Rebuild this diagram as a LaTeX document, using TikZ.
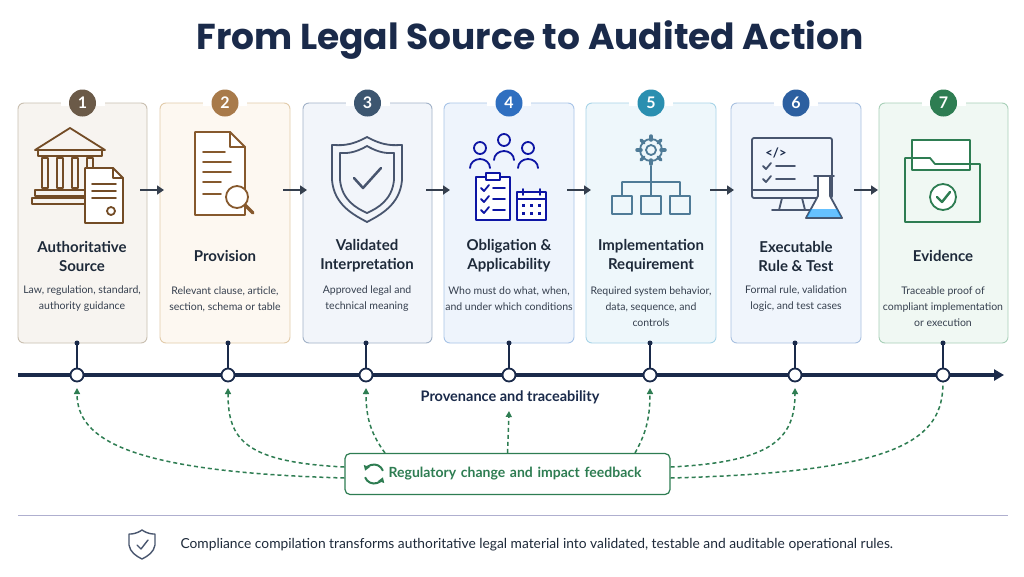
\documentclass[tikz,border=0pt]{standalone}
\usepackage{fontspec}
\setmainfont{Lato}
\newfontfamily\titlefont{Poppins}
\usetikzlibrary{arrows.meta,calc}
\definecolor{navy}{HTML}{1A2A4A}
\definecolor{fgreen}{HTML}{2E7D52}
\definecolor{ink}{HTML}{1E2A3A}
\begin{document}
\begin{tikzpicture}[x=1pt,y=-1pt,
 card/.style={rounded corners=6pt,line width=0.9pt},
 num/.style={circle,minimum size=27pt,inner sep=0pt,text=white,font=\bfseries\fontsize{16}{16}\selectfont},
 ttl/.style={align=center,font=\bfseries\fontsize{15}{19}\selectfont,text=ink},
 dsc/.style={align=center,font=\fontsize{10.5}{16}\selectfont,text=ink!90},
 steparr/.style={-{Triangle[length=7pt,width=9pt]},line width=2.6pt,draw=ink!90},
 tdot/.style={circle,draw=navy,fill=white,line width=1.8pt,minimum size=13pt,inner sep=0pt},
 fb/.style={dashed,draw=fgreen,line width=1.5pt,dash pattern=on 4pt off 3pt},
 fba/.style={fb,-{Triangle[length=6pt,width=6pt]}},
 ic/.style={line width=1.8pt,line join=round,line cap=round}]
\useasboundingbox (0,0) rectangle (1024,576);
\fill[white] (0,0) rectangle (1024,576);
\node[font=\titlefont\bfseries\fontsize{36}{36}\selectfont,text=navy] (title) at (530,40) {From Legal Source to Audited Action};
% cards
\def\cards{1/18/147/F7F4F0/C9BFB0/6B5A48,2/160/290/FDF8F1/E2CBAA/A87A4A,3/303/432/F2F5FA/A2B2C8/3D5670,4/444/574/EEF4FC/A8C4E8/2F6FC0,5/586/716/EEF7FB/A8D4E8/2A8FB0,6/731/861/F0F5FC/A8C0E0/2C5FA0,7/879/1008/F0F8F3/A8D0B8/2E7D52}
\foreach \n/\a/\b/\f/\d/\c in \cards {
 \definecolor{cf}{HTML}{\f}\definecolor{cd}{HTML}{\d}\definecolor{cc}{HTML}{\c}
 \draw[card,fill=cf,draw=cd] (\a,103) rectangle (\b,343);
 \fill[white] ({(\a+\b)/2-22},100) rectangle ({(\a+\b)/2+22},106);
 \node[num,fill=cc] (n\n) at ({(\a+\b)/2},103) {\n};
 \coordinate (c\n) at ({(\a+\b)/2},190);
}
% titles & descriptions
\node[ttl] (t1) at (82,256) {Authoritative\\Source};
\node[ttl] (t2) at (225,256) {Provision};
\node[ttl] (t3) at (367,256) {Validated\\Interpretation};
\node[ttl] (t4) at (509,256) {Obligation \&\\Applicability};
\node[ttl] (t5) at (651,256) {Implementation\\Requirement};
\node[ttl] (t6) at (796,256) {Executable\\Rule \& Test};
\node[ttl] (t7) at (943,256) {Evidence};
\node[dsc] (d1) at (82,299) {Law, regulation, standard,\\authority guidance};
\node[dsc] (d2) at (225,299) {Relevant clause, article,\\section, schema or table};
\node[dsc] (d3) at (367,299) {Approved legal and\\technical meaning};
\node[dsc] (d4) at (509,299) {Who must do what, when,\\and under which conditions};
\node[dsc] (d5) at (651,307) {Required system behavior,\\data, sequence, and\\controls};
\node[dsc] (d6) at (796,299) {Formal rule, validation\\logic, and test cases};
\node[dsc] (d7) at (943,307) {Traceable proof of\\compliant implementation\\or execution};
% step arrows
\foreach \x in {153,296,439,580,723,867} \draw[steparr] (\x-13,190) -- (\x+11,190);
% icons
\begin{scope}[ic,draw=brown!60!black]
 \draw (35,150) -- (70,128) -- (105,150) -- cycle; \draw (38,150) rectangle (102,156);
 \foreach \x in {45,60,75,90} \draw (\x-3,158) rectangle (\x+3,188);
 \draw (35,190) rectangle (105,196); \draw (32,198) rectangle (108,204);
 \draw[fill=white] (85,168) -- (113,168) -- (123,178) -- (123,223) -- (85,223) -- cycle;
 \draw (113,168) -- (113,178) -- (123,178);
 \foreach \y in {184,191,198} \draw (92,\y) -- (116,\y);
 \draw (111,211) circle (4);
\end{scope}
\begin{scope}[ic,draw=brown!70!black]
 \draw[fill=white] (195,132) -- (230,132) -- (245,147) -- (245,215) -- (195,215) -- cycle;
 \draw (230,132) -- (230,147) -- (245,147);
 \foreach \y/\l in {152/22,162/28,172/28,182/18,194/18} \draw (203,\y) -- ++(\l,0);
 \draw[fill=white] (237,197) circle (11); \draw[line width=3.5pt] (245,205) -- (253,213);
\end{scope}
\begin{scope}[ic,draw=navy!80]
 \draw (367,137) .. controls (385,147) and (395,145) .. (402,145) -- (402,180) .. controls (400,205) and (380,215) .. (367,222) .. controls (354,215) and (334,205) .. (332,180) -- (332,145) .. controls (339,145) and (349,147) .. cycle;
 \draw (367,146) .. controls (381,154) and (388,153) .. (394,153) -- (394,180) .. controls (392,200) and (378,208) .. (367,213) .. controls (356,208) and (342,200) .. (340,180) -- (340,153) .. controls (346,153) and (353,154) .. cycle;
 \draw[line width=2.5pt] (354,178) -- (363,188) -- (381,168);
\end{scope}
\begin{scope}[ic,draw=blue!50!navy]
 \foreach \x/\y in {480/148,504/140,528/148} {\draw (\x,\y) circle (6); \draw (\x-10,\y+20) arc (180:360:10 and 9);}
 \draw[fill=white] (476,177) rectangle (510,220); \draw[fill=white] (486,173) rectangle (500,180);
 \foreach \y in {188,199,210} {\draw (481,\y) -- (484,\y+3) -- (489,\y-3); \draw (493,\y) -- (505,\y);}
 \draw[fill=white] (517,192) rectangle (546,220); \draw (517,199) -- (546,199);
 \draw (523,189) -- (523,195) (540,189) -- (540,195);
 \foreach \x in {523,531,539} \foreach \y in {205,213} \fill[blue!50!navy] (\x-1.5,\y-1.5) rectangle (\x+1.5,\y+1.5);
\end{scope}
\begin{scope}[ic,draw=cyan!40!navy]
 \draw (651,150) circle (5);
 \foreach \a in {0,45,...,315} \draw[line width=3.5pt] ($(651,150)+(\a:10)$) -- ($(651,150)+(\a:14)$);
 \draw (651,150) circle (11);
 \draw (651,166) -- (651,182) (622,182) -- (680,182) (622,182) -- (622,196) (651,182) -- (651,196) (680,182) -- (680,196);
 \foreach \x in {622,651,680} \draw (\x-10,196) rectangle (\x+10,214);
\end{scope}
\begin{scope}[ic,draw=navy!80]
 \draw[rounded corners=2pt] (752,138) rectangle (832,198);
 \draw (752,190) -- (832,190); \draw (782,198) -- (779,210) (802,198) -- (805,210) (772,210) -- (812,210);
 \node[font=\bfseries\fontsize{13}{13}\selectfont,text=navy] (code) at (776,153) {</>};
 \foreach \y in {166,179} {\draw (763,\y) -- (766,\y+3) -- (771,\y-3); \draw (776,\y) -- (795,\y);}
 \draw[fill=white] (818,176) -- (818,196) -- (806,218) -- (842,218) -- (830,196) -- (830,176);
 \draw (814,176) -- (834,176);
 \fill[blue!40!cyan,opacity=.6] (811,209) -- (837,209) -- (841,217) -- (807,217) -- cycle;
\end{scope}
\begin{scope}[ic,draw=fgreen]
 \draw[fill=white] (912,140) rectangle (970,170);
 \draw (905,158) -- (905,222) -- (980,222) -- (980,164) -- (935,164) -- (930,158) -- cycle;
 \draw[fill=white] (943,197) circle (13); \draw[line width=2.4pt] (937,197) -- (942,202) -- (950,192);
\end{scope}
% timeline
\coordinate (tl0) at (18,375); \coordinate (tl1) at (1004,375);
\draw[navy,line width=3.2pt,-{Triangle[length=10pt,width=11pt]}] (tl0) -- (tl1);
\foreach \i/\x in {1/77,2/228,3/366,4/509,5/650,6/795,7/943} {
 \node[tdot] (p\i) at (\x,375) {};
 \fill[navy] (\x,343) circle (2.5);
 \draw[navy,line width=1.4pt] (\x,343) -- (p\i);
}
\node[font=\bfseries\fontsize{14.5}{14.5}\selectfont,text=navy] (prov) at (510,397) {Provenance and traceability};
% feedback
\node[draw=fgreen,fill=white,line width=1.2pt,rounded corners=5pt,minimum width=325pt,minimum height=41pt,font=\bfseries\fontsize{14}{14}\selectfont,text=fgreen,text width=268pt,align=right] (fbk) at (507.5,474) {Regulatory change and impact feedback};
\begin{scope}[fgreen,line width=2pt]
 \draw[-{Triangle[length=5pt,width=6pt]}] (374,474) ++(-20:9.5) arc (-20:-160:9.5);
 \draw[-{Triangle[length=5pt,width=6pt]}] (374,474) ++(160:9.5) arc (160:20:9.5);
\end{scope}
\draw[fba] (fbk.west |- 0,478) .. controls (130,472) and (77,440) .. (p1.south |- 0,388);
\draw[fba] (fbk.west |- 0,467) .. controls (245,462) and (228,440) .. (p2.south |- 0,388);
\draw[fba] (385,453) .. controls (372,435) and (366,420) .. (p3.south |- 0,388);
\draw[fba] (fbk.north) -- (509,411);
\draw[fba] (635,453) .. controls (645,435) and (650,420) .. (p5.south |- 0,388);
\draw[fba] (fbk.east |- 0,467) .. controls (770,462) and (795,440) .. (p6.south |- 0,388);
\draw[fb] (fbk.east |- 0,478) .. controls (900,472) and (943,440) .. (p7.south);
% footer
\draw[blue!25!gray!50,line width=1pt] (18,515) -- (1008,515);
\begin{scope}[ic,draw=navy!80,line width=1.4pt]
 \draw (142,530) .. controls (148,534) and (152,534) .. (155,534) -- (155,545) .. controls (154,552) and (148,556) .. (142,559) .. controls (136,556) and (130,552) .. (129,545) -- (129,534) .. controls (132,534) and (136,534) .. cycle;
 \draw (137,545) -- (141,549) -- (148,540);
\end{scope}
\node[anchor=west,font=\fontsize{13.8}{13.8}\selectfont,text=ink] (foot) at (177,545) {Compliance compilation transforms authoritative legal material into validated, testable and auditable operational rules.};
\end{tikzpicture}
\end{document}
